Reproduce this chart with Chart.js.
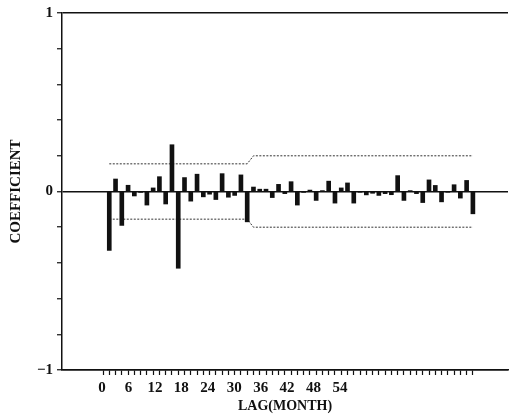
<!DOCTYPE html>
<html>
<head>
<meta charset="utf-8">
<script src="https://cdn.jsdelivr.net/npm/chart.js@4.4.0/dist/chart.umd.min.js"></script>
<style>
  body { margin: 0; background: #fff; }
</style>
</head>
<body>
<canvas id="acfChart" width="510" height="418"></canvas>
<script>
// lags of the autocorrelation bars
var lags = [1, 2, 3, 4, 5, 6, 7, 8, 9, 10, 11, 12, 13, 14, 15, 16, 17, 18, 19, 20,
            21, 22, 23, 24, 25, 26, 27, 28, 29, 30, 31, 32, 33, 34, 35, 36, 37, 38, 39, 40,
            41, 42, 43, 44, 45, 46, 47, 48, 49, 50, 51, 52, 53, 54, 55, 56, 57, 58, 59];
// coefficient at each lag
var coefficients = [-0.33, 0.07, -0.19, 0.035, -0.025, -0.005, -0.076, 0.02, 0.083, -0.07,
                    0.262, -0.43, 0.078, -0.054, 0.097, -0.03, -0.015, -0.045, 0.1, -0.032,
                    -0.022, 0.093, -0.17, 0.025, 0.013, 0.013, -0.034, 0.04, -0.012, 0.055,
                    -0.076, -0.005, 0.008, -0.05, 0.005, 0.058, -0.065, 0.02, 0.048, -0.065,
                    -0.004, -0.019, -0.01, -0.022, -0.012, -0.018, 0.089, -0.05, 0.005, -0.012,
                    -0.062, 0.065, 0.034, -0.058, -0.003, 0.038, -0.037, 0.062, -0.125];
// confidence band (dotted lines)
var bandLags = [1, 23, 24, 59];
var bandUpper = [0.155, 0.155, 0.2, 0.2];
var bandLower = [-0.155, -0.155, -0.2, -0.2];
// tick labels (the printed labels sit on their own, tighter scale)
var xTickLabels = [0, 6, 12, 18, 24, 30, 36, 42, 48, 54];
var yTickLabels = [-1, 0, 1];

function pts(xs, ys) {
    return xs.map(function (x, i) { return { x: x, y: ys[i] }; });
}
function isLabelY(v) {
    return yTickLabels.some(function (t) { return Math.abs(t - v) < 1e-6; });
}

var serif = '"Liberation Serif", "DejaVu Serif", serif';
var ink = '#111';
var clear = 'rgba(0,0,0,0)';

var ctx = document.getElementById('acfChart').getContext('2d');
var acfChart = new Chart(ctx, {
    type: 'bar',
    data: {
        datasets: [{
            type: 'bar',
            data: pts(lags, coefficients),
            backgroundColor: ink,
            borderWidth: 0,
            barThickness: 4,
            order: 1
        }, {
            type: 'line',
            data: pts(bandLags, bandUpper),
            borderColor: '#333',
            borderWidth: 1,
            borderDash: [2, 1.5],
            pointRadius: 0,
            fill: false,
            tension: 0,
            order: 2
        }, {
            type: 'line',
            data: pts(bandLags, bandLower),
            borderColor: '#333',
            borderWidth: 1,
            borderDash: [2, 1.5],
            pointRadius: 0,
            fill: false,
            tension: 0,
            order: 2
        }]
    },
    options: {
        responsive: false,
        animation: false,
        layout: { padding: { left: 0, top: 10, right: 2, bottom: 0 } },
        plugins: { legend: { display: false }, tooltip: { enabled: false } },
        scales: {
            // lag axis: carries the bars and the comb of tick marks
            x: {
                type: 'linear',
                position: 'bottom',
                weight: 0,
                min: -6.54,
                max: 64.6,
                offset: false,
                afterFit: function (scale) { scale.height = 7; },
                afterBuildTicks: function (scale) {
                    scale.ticks = lags.concat([0]).sort(function (a, b) { return a - b; })
                        .map(function (v) { return { value: v }; });
                },
                border: { display: true, color: ink, width: 1.5 },
                grid: {
                    offset: false,
                    drawOnChartArea: false,
                    drawTicks: true,
                    tickLength: 5,
                    tickWidth: 1.2,
                    tickColor: ink,
                    color: ink
                },
                ticks: {
                    autoSkip: false,
                    maxRotation: 0,
                    padding: 0,
                    font: { size: 1 },
                    callback: function () { return ''; }
                }
            },
            // printed labels
            xLabels: {
                type: 'linear',
                position: 'bottom',
                weight: 1,
                min: -9.08,
                max: 92.13,
                offset: false,
                afterFit: function (scale) { scale.height = 41; },
                afterBuildTicks: function (scale) {
                    scale.ticks = xTickLabels.map(function (v) { return { value: v }; });
                },
                border: { display: false },
                grid: { display: false, drawTicks: false },
                ticks: {
                    autoSkip: false,
                    maxRotation: 0,
                    padding: 2,
                    color: ink,
                    font: { family: serif, size: 15, weight: 'bold' }
                },
                title: {
                    display: true,
                    text: 'LAG(MONTH)',
                    color: ink,
                    font: { family: serif, size: 14, weight: 'bold' },
                    padding: { top: 0, bottom: 3 }
                }
            },
            y: {
                min: -1,
                max: 1,
                afterFit: function (scale) { scale.width = 62; },
                border: { display: true, color: ink, width: 1.5 },
                grid: {
                    drawTicks: true,
                    tickLength: 5,
                    tickWidth: 1.2,
                    tickColor: ink,
                    lineWidth: 1.5,
                    color: function (c) {
                        return isLabelY(c.tick.value) ? ink : clear;
                    }
                },
                ticks: {
                    stepSize: 0.2,
                    autoSkip: false,
                    padding: 4,
                    color: ink,
                    font: { family: serif, size: 15, weight: 'bold' },
                    callback: function (v) {
                        if (!isLabelY(v)) return '';
                        var r = Math.round(v);
                        return r < 0 ? '\u2212' + Math.abs(r) : String(r);
                    }
                },
                title: {
                    display: true,
                    text: 'COEFFICIENT',
                    color: ink,
                    font: { family: serif, size: 15, weight: 'bold' },
                    padding: { top: 7, bottom: 0 }
                }
            }
        }
    }
});
</script>
</body>
</html>
